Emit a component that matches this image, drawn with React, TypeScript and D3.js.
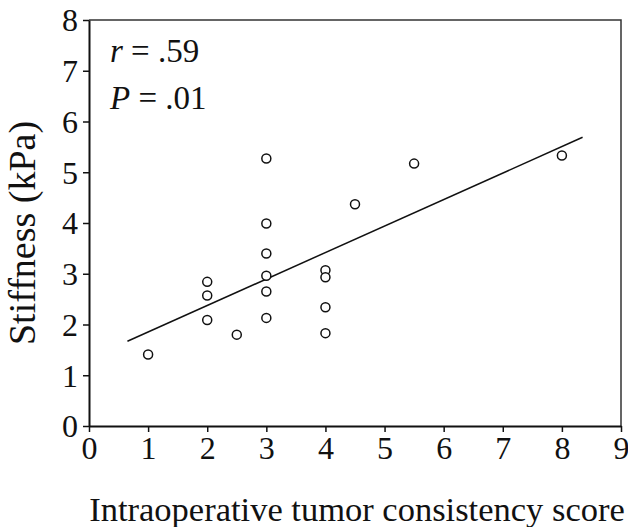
import React, { useEffect, useRef } from 'react';
import * as d3 from 'd3';

// tumor consistency score vs stiffness
const scores = [1, 2, 2, 2, 2.5, 3, 3, 3, 3, 3, 3, 4, 4, 4, 4, 4.5, 5.5, 8];
const stiffness = [1.41, 2.84, 2.57, 2.09, 1.8, 5.27, 3.99, 3.4, 2.96, 2.65, 2.13, 3.07, 2.93, 2.34, 1.83, 4.37, 5.17, 5.33];

const xTicks = [0, 1, 2, 3, 4, 5, 6, 7, 8, 9];
const yTicks = [0, 1, 2, 3, 4, 5, 6, 7, 8];

// fitted line
const fitRange = [0.65, 8.35];
const fitIntercept = 1.33;
const fitSlope = 0.522;

const width = 628;
const height = 527;
const margin = { top: 20, right: 7, bottom: 101, left: 89 };
const font = "'Liberation Serif', 'Times New Roman', 'DejaVu Serif', serif";

const App: React.FC = () => {
  const ref = useRef<SVGSVGElement | null>(null);

  useEffect(() => {
    document.body.style.margin = '0';
    if (!ref.current) return;

    const svg = d3.select(ref.current)
      .attr('width', width)
      .attr('height', height)
      .style('font-family', font)
      .html('');

    const x = d3.scaleLinear().domain([0, 9]).range([margin.left, width - margin.right]);
    const y = d3.scaleLinear().domain([0, 8]).range([height - margin.bottom, margin.top]);

    const x0 = x(0), x1 = x(9), y0 = y(0), y1 = y(8);

    // frame: top and right
    svg.append('path')
      .attr('d', `M${x0},${y1}H${x1}V${y0}`)
      .attr('fill', 'none')
      .attr('stroke', '#333')
      .attr('stroke-width', 1.5);

    // x axis
    const xAxis = svg.append('g').attr('transform', `translate(0,${y0})`)
      .call(d3.axisBottom(x).tickValues(xTicks).tickSize(6).tickSizeOuter(0).tickPadding(4));
    xAxis.attr('font-family', null).attr('font-size', null);
    xAxis.select('.domain').attr('stroke', '#111').attr('stroke-width', 2);
    xAxis.selectAll('.tick line').attr('stroke', '#111').attr('stroke-width', 1.5);
    xAxis.selectAll('.tick text')
      .style('font-family', font)
      .style('font-size', '32px')
      .attr('fill', '#111');

    // y axis
    const yAxis = svg.append('g').attr('transform', `translate(${x0},0)`)
      .call(d3.axisLeft(y).tickValues(yTicks).tickSize(6).tickSizeOuter(0).tickPadding(5));
    yAxis.attr('font-family', null).attr('font-size', null);
    yAxis.select('.domain').attr('stroke', '#111').attr('stroke-width', 2);
    yAxis.selectAll('.tick line').attr('stroke', '#111').attr('stroke-width', 1.5);
    yAxis.selectAll('.tick text')
      .style('font-family', font)
      .style('font-size', '32px')
      .attr('dy', '0.34em')
      .attr('fill', '#111');

    // regression line
    const line = d3.line<number>().x((d) => x(d)).y((d) => y(fitIntercept + fitSlope * d));
    svg.append('path')
      .attr('d', line(fitRange)!)
      .attr('fill', 'none')
      .attr('stroke', '#111')
      .attr('stroke-width', 1.5);

    // points
    svg.append('g')
      .selectAll('circle')
      .data(scores)
      .enter()
      .append('circle')
      .attr('cx', (d) => x(d))
      .attr('cy', (_, i) => y(stiffness[i]))
      .attr('r', 4.5)
      .attr('fill', 'white')
      .attr('stroke', '#111')
      .attr('stroke-width', 1.5);

    // stats
    const stat1 = svg.append('text').attr('x', 110).attr('y', 62)
      .style('font-family', font).style('font-size', '33px').attr('fill', '#111');
    stat1.append('tspan').attr('font-style', 'italic').text('r');
    stat1.append('tspan').text(' = .59');
    const stat2 = svg.append('text').attr('x', 110).attr('y', 109)
      .style('font-family', font).style('font-size', '33px').attr('fill', '#111');
    stat2.append('tspan').attr('font-style', 'italic').text('P');
    stat2.append('tspan').text(' = .01');

    // axis titles
    svg.append('text')
      .attr('x', 357)
      .attr('y', 521)
      .attr('text-anchor', 'middle')
      .style('font-family', font)
      .style('font-size', '34.5px')
      .attr('fill', '#111')
      .text('Intraoperative tumor consistency score');

    svg.append('text')
      .attr('transform', `translate(35,${233}) rotate(-90)`)
      .attr('text-anchor', 'middle')
      .style('font-family', font)
      .style('font-size', '38px')
      .attr('fill', '#111')
      .text('Stiffness (kPa)');
  }, []);

  return <svg ref={ref}></svg>;
};

export default App;
